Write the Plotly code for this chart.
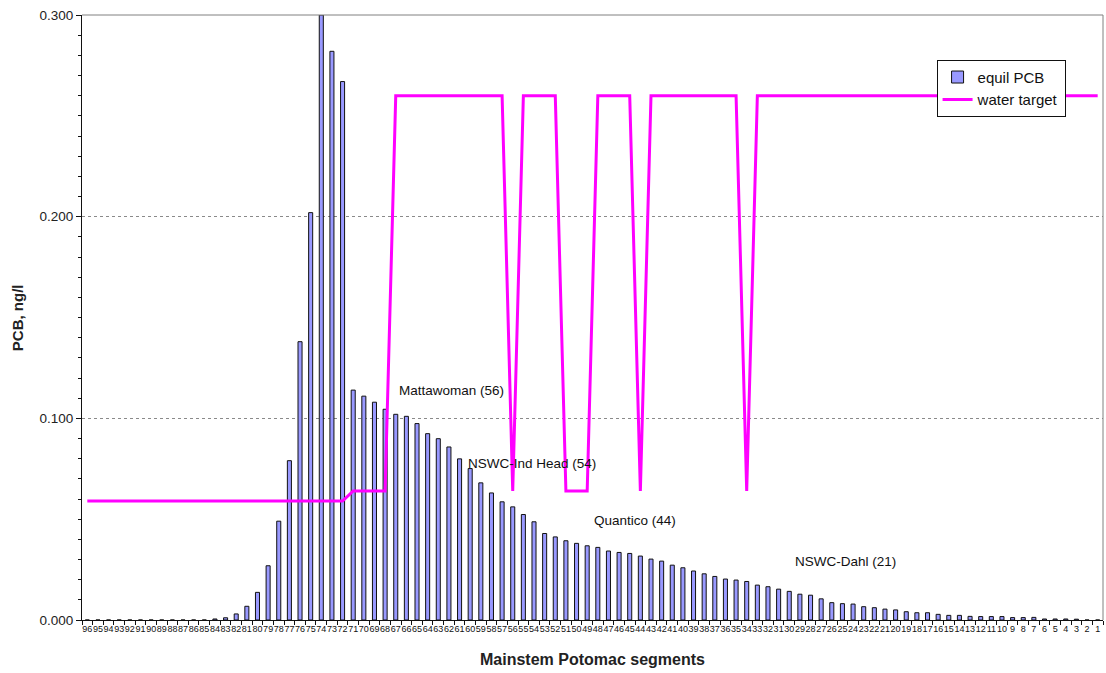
import plotly.graph_objects as go

# Mainstem Potomac segments, upstream (96) to downstream (1)
segments = [str(s) for s in range(96, 0, -1)]

# Equilibrium PCB concentration per segment, ng/l
equil_pcb = [
    0, 0, 0, 0, 0, 0, 0, 0, 0, 0, 0, 0,                      # 96-85
    0.0005, 0.0011, 0.003, 0.0068, 0.0137, 0.0269,           # 84-79
    0.049, 0.079, 0.138, 0.202, 0.300, 0.282, 0.267,         # 78-72
    0.114, 0.111, 0.108, 0.1045, 0.102, 0.101, 0.0974,       # 71-65
    0.0924, 0.0899, 0.0858, 0.0799, 0.0751, 0.068, 0.063,    # 64-58
    0.0586, 0.0561, 0.0523, 0.0487, 0.0429, 0.0412, 0.0393,  # 57-51
    0.038, 0.0368, 0.036, 0.0342, 0.0335, 0.033, 0.0317,     # 50-44
    0.0302, 0.0292, 0.0272, 0.0259, 0.0243, 0.0229, 0.0216,  # 43-37
    0.0203, 0.0198, 0.0191, 0.0173, 0.0165, 0.0153, 0.0142,  # 36-30
    0.0128, 0.0123, 0.0105, 0.0086, 0.0081, 0.0079, 0.0066,  # 29-23
    0.0061, 0.0054, 0.0050, 0.0041, 0.0036, 0.0036, 0.0028,  # 22-16
    0.0023, 0.0023, 0.0018, 0.0017, 0.0017, 0.0017, 0.0012,  # 15-9
    0.0012, 0.0013, 0.0005, 0.0005, 0.0005, 0.0004, 0, 0,    # 8-1
]

# Water column PCB target per segment, ng/l
water_target = (
    [0.059] * 25      # 96-72
    + [0.064] * 4     # 71-68
    + [0.26] * 11     # 67-57
    + [0.064]         # 56
    + [0.26] * 4      # 55-52
    + [0.064] * 3     # 51-49
    + [0.26] * 4      # 48-45
    + [0.064]         # 44
    + [0.26] * 9      # 43-35
    + [0.064]         # 34
    + [0.26] * 33     # 33-1
)

# Discharge labels: (text, left edge in paper x, y in ng/l)
site_labels = [
    ("Mattawoman (56)", 0.3085, 0.114),
    ("NSWC-Ind Head (54)", 0.3765, 0.0778),
    ("Quantico (44)", 0.4995, 0.0493),
    ("NSWC-Dahl (21)", 0.6960, 0.0290),
]

y_ticks = [0.0, 0.1, 0.2, 0.3]

FONT = "Liberation Sans, Arial, sans-serif"

fig = go.Figure()

fig.add_trace(go.Bar(
    x=segments,
    y=equil_pcb,
    name="equil PCB",
    width=0.38,
    marker=dict(color="#9999FF", line=dict(color="#111111", width=1)),
))

fig.add_trace(go.Scatter(
    x=segments,
    y=water_target,
    name="water target",
    mode="lines",
    line=dict(color="#FF00FF", width=3),
))

for text, px, py in site_labels:
    fig.add_annotation(
        x=px, y=py, xref="paper", yref="y",
        text=text, showarrow=False,
        xanchor="left", yanchor="middle",
        font=dict(family=FONT, size=13.5, color="#111111"),
    )

# axis titles
fig.add_annotation(
    x=0.5, y=-0.066, xref="paper", yref="paper",
    text="<b>Mainstem Potomac segments</b>", showarrow=False,
    xanchor="center", yanchor="middle",
    font=dict(family=FONT, size=16, color="#222222"),
)
fig.add_annotation(
    x=-0.063, y=0.5, xref="paper", yref="paper",
    text="<b>PCB, ng/l</b>", showarrow=False, textangle=-90,
    xanchor="center", yanchor="middle",
    font=dict(family=FONT, size=15, color="#222222"),
)

# plot-area frame on top and right
frame = dict(color="#808080", width=1)
fig.add_shape(type="line", xref="paper", yref="paper",
              x0=0, x1=1, y0=1, y1=1, line=frame, layer="above")
fig.add_shape(type="line", xref="paper", yref="paper",
              x0=1, x1=1, y0=0, y1=1, line=frame, layer="above")

fig.update_layout(
    width=1106,
    height=673,
    margin=dict(l=82, r=3, t=15, b=53),
    paper_bgcolor="white",
    plot_bgcolor="white",
    font=dict(family=FONT, color="#111111"),
    showlegend=True,
    legend=dict(
        x=0.837, y=0.926, xanchor="left", yanchor="top",
        bgcolor="white", bordercolor="#111111", borderwidth=1,
        font=dict(family=FONT, size=15, color="#111111"),
        tracegroupgap=0,
    ),
    xaxis=dict(
        type="category",
        tickmode="array",
        tickvals=segments,
        ticktext=segments,
        tickangle=0,
        tickson="boundaries",
        ticks="outside",
        ticklen=4,
        tickcolor="#111111",
        tickfont=dict(family=FONT, size=9, color="#111111"),
        showline=True,
        linecolor="#111111",
        linewidth=1,
        showgrid=False,
        range=[-0.5, 95.5],
    ),
    yaxis=dict(
        range=[0, 0.3],
        tickmode="array",
        tickvals=y_ticks,
        ticktext=[f"{v:.3f}" for v in y_ticks],
        ticks="outside",
        ticklen=5,
        tickcolor="#111111",
        tickfont=dict(family=FONT, size=13.5, color="#222222"),
        showline=True,
        linecolor="#111111",
        linewidth=1,
        showgrid=True,
        gridcolor="#8a8a8a",
        griddash="3px,3px",
        gridwidth=1,
        zeroline=False,
        minor=dict(dtick=0.01, tick0=0, ticks="outside", ticklen=3,
                   tickcolor="#111111", showgrid=False),
    ),
)

fig.write_html("out.html")
